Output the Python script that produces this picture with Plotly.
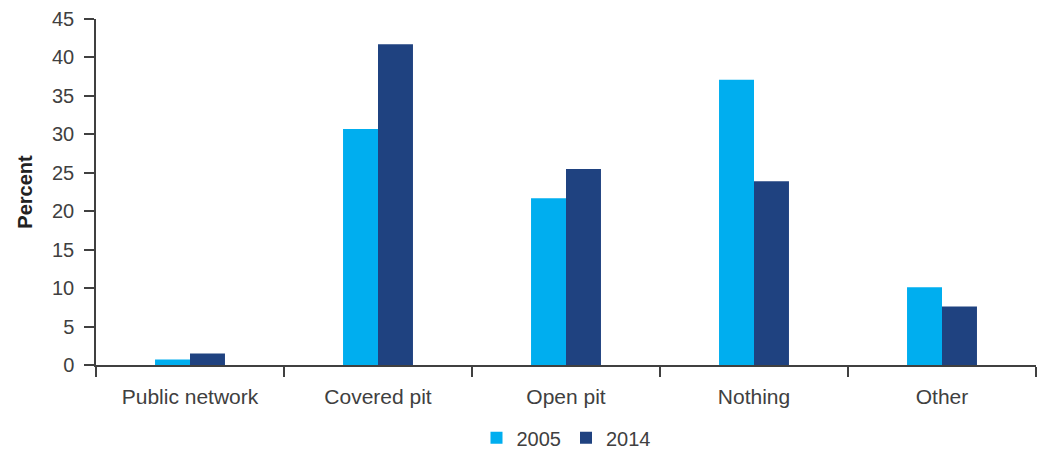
import plotly.graph_objects as go

# Sanitation facility categories and shares (percent) by survey year
categories = ["Public network", "Covered pit", "Open pit", "Nothing", "Other"]
values_2005 = [0.7, 30.7, 21.7, 37.1, 10.1]
values_2014 = [1.5, 41.7, 25.5, 23.9, 7.6]
y_ticks = [0, 5, 10, 15, 20, 25, 30, 35, 40, 45]

color_2005 = "#00AEEF"
color_2014 = "#1F4280"
axis_color = "#404040"
text_color = "#404040"
font_family = "Liberation Sans, Arial, sans-serif"

fig = go.Figure()
fig.add_trace(go.Bar(name="2005", x=categories, y=values_2005,
                     marker=dict(color=color_2005, line=dict(width=0))))
fig.add_trace(go.Bar(name="2014", x=categories, y=values_2014,
                     marker=dict(color=color_2014, line=dict(width=0))))

fig.update_layout(
    width=1038, height=449,
    margin=dict(l=96, r=2, t=19, b=84, autoexpand=False),
    paper_bgcolor="white", plot_bgcolor="white",
    barmode="group", bargap=0.628, bargroupgap=0,
    font=dict(family=font_family, size=20, color=text_color),
    legend=dict(orientation="h", x=0.5, xanchor="center",
                yref="container", y=0.025, yanchor="middle",
                font=dict(size=20, color=text_color), traceorder="normal",
                itemwidth=30),
    showlegend=True,
)

fig.update_xaxes(
    type="category", range=[-0.5, 4.5],
    showline=True, linecolor=axis_color, linewidth=1.5,
    ticks="outside", tickson="boundaries", ticklen=10, tickwidth=1.5, tickcolor=axis_color,
    showgrid=False, zeroline=False, automargin=False,
    tickfont=dict(size=21, color=text_color), ticklabelstandoff=12,
)
fig.update_yaxes(
    range=[0, 45], tickvals=y_ticks,
    showline=True, linecolor=axis_color, linewidth=1.5,
    ticks="outside", ticklen=10, tickwidth=1.5, tickcolor=axis_color,
    showgrid=False, zeroline=False, automargin=False,
    tickfont=dict(size=20, color=text_color), ticklabelstandoff=6,
    title=dict(text="<b>Percent</b>", font=dict(size=20, color="#222222"), standoff=14),
)

fig.write_html("out.html")
